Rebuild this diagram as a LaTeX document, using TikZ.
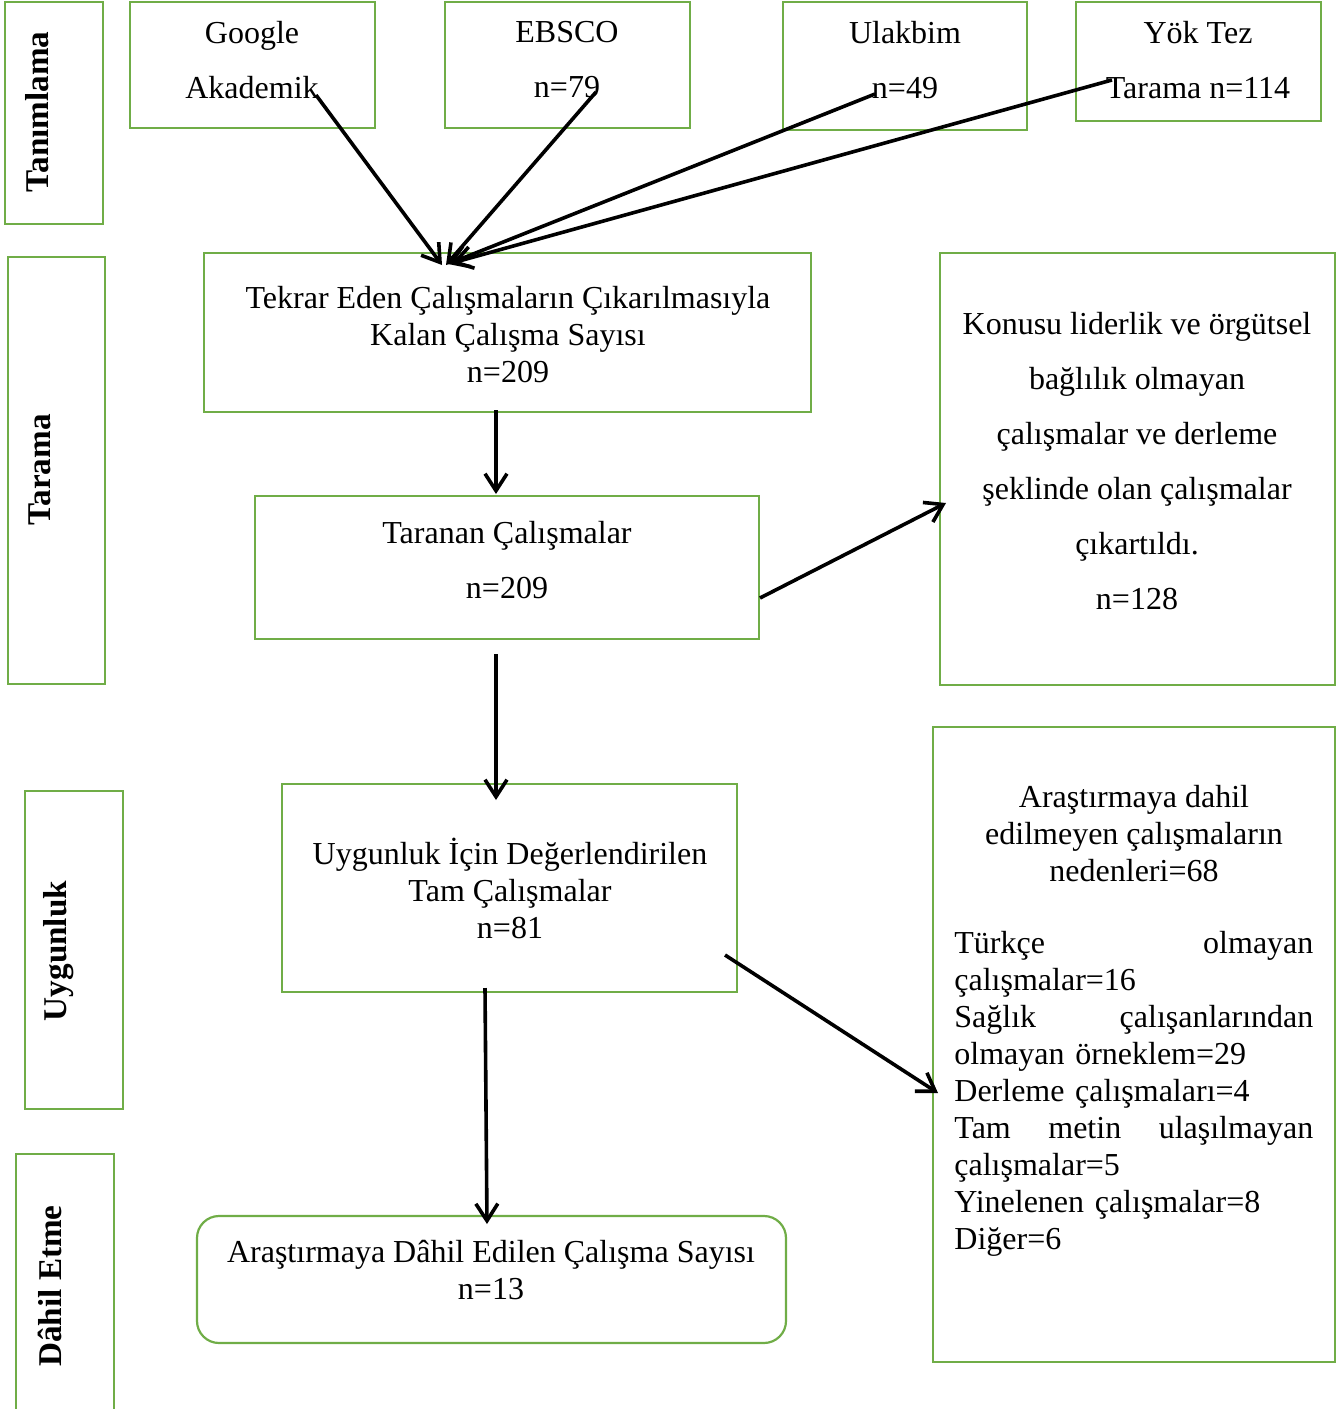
\documentclass[tikz,border=0pt]{standalone}
\usepackage{fontspec}
\setmainfont{Liberation Serif}
\usetikzlibrary{arrows.meta,fit}
\definecolor{boxgreen}{HTML}{70AD47}
\begin{document}
\begin{tikzpicture}[x=0.5pt,y=-0.5pt,
  box/.style={draw=boxgreen, line width=1.1pt, inner sep=0pt},
  txt/.style={font=\fontsize{16}{18.5}\selectfont, align=center, inner sep=0pt},
  wide/.style={font=\fontsize{16}{27.5}\selectfont, align=center, inner sep=0pt},
  lab/.style={font=\fontsize{16.6}{18.5}\selectfont\bfseries, rotate=90, inner sep=0pt},
  arr/.style={-{Straight Barb[length=8.5pt,width=11pt]}, line width=1.8pt, black}]
\useasboundingbox (0,0) rectangle (1344,1409);

% stage label boxes
\node[box, fit={(5,2)(103,224)}] (lTan) {};
\node[box, fit={(8,257)(105,684)}] (lTar) {};
\node[box, fit={(25,791)(123,1109)}] (lUyg) {};
\node[box, fit={(16,1154)(114,1430)}] (lDah) {};
\node[lab] (lTanT) at (37,112) {Tanımlama};
\node[lab] (lTarT) at (40,470) {Tarama};
\node[lab] (lUygT) at (59,951) {Uygunluk};
\node[lab] (lDahT) at (50,1286) {Dâhil Etme};

% source boxes
\node[box, fit={(130,2)(375,128)}] (google) {};
\node[box, fit={(445,2)(690,128)}] (ebsco) {};
\node[box, fit={(783,2)(1027,130)}] (ulak) {};
\node[box, fit={(1076,2)(1321,121)}] (yok) {};
\node[wide] (googleT) at (252,60) {Google\\Akademik};
\node[wide] (ebscoT) at (567,60) {EBSCO\\n=79};
\node[wide] (ulakT) at (905,60) {Ulakbim\\n=49};
\node[wide] (yokT) at (1198,60) {Yök Tez\\Tarama n=114};

% main flow
\node[box, fit={(204,253)(811,412)}] (tekrar) {};
\node[txt] (tekrarT) at (508,335) {Tekrar Eden Çalışmaların Çıkarılmasıyla\\Kalan Çalışma Sayısı\\n=209};
\node[box, fit={(255,496)(759,639)}] (taranan) {};
\node[wide] (tarananT) at (507,560) {Taranan Çalışmalar\\n=209};
\node[box, fit={(940,253)(1335,685)}] (konu) {};
\node[wide] (konuT) at (1137,461) {Konusu liderlik ve örgütsel\\bağlılık olmayan\\çalışmalar ve derleme\\şeklinde olan çalışmalar\\çıkartıldı.\\n=128};
\node[box, fit={(282,784)(737,992)}] (uygun) {};
\node[txt] (uygunT) at (510,888) {Uygunluk İçin Değerlendirilen\\Tam Çalışmalar\\n=81};
\node[box, fit={(933,727)(1335,1362)}] (neden) {};
\node[txt, anchor=north] (nedenH) at (1134,785) {Araştırmaya dahil\\edilmeyen çalışmaların\\nedenleri=68};
\node[txt, anchor=north west, align=left, text width=179.5pt] (nedenL) at (954,931) {Türkçe\hfill olmayan\\çalışmalar=16\\Sağlık\hfill çalışanlarından\\olmayan örneklem=29\\Derleme çalışmaları=4\\Tam\hfill metin\hfill ulaşılmayan\\çalışmalar=5\\Yinelenen çalışmalar=8\\Diğer=6};
\node[box, rounded corners=11pt, fit={(197,1216)(786,1343)}] (dahil) {};
\node[txt] (dahilT) at (491,1270) {Araştırmaya Dâhil Edilen Çalışma Sayısı\\n=13};

% connector end points
\coordinate (gS) at (316,95);  \coordinate (gE) at (442,265);
\coordinate (eS) at (596,92);  \coordinate (eE) at (446,265);
\coordinate (uS) at (875,94);  \coordinate (uE) at (448,264);
\coordinate (yS) at (1112,80); \coordinate (yE) at (452,263);
\coordinate (t1S) at (496,410); \coordinate (t1E) at (496,494);
\coordinate (t2S) at (496,654); \coordinate (t2E) at (496,800);
\coordinate (t3S) at (760,598); \coordinate (t3E) at (946,503);
\coordinate (u1S) at (725,955); \coordinate (u1E) at (938,1093);
\coordinate (u2S) at (485,988); \coordinate (u2E) at (487,1224);

\draw[arr] (gS) -- (gE);
\draw[arr] (eS) -- (eE);
\draw[arr] (uS) -- (uE);
\draw[arr] (yS) -- (yE);
\draw[arr] (t1S) -- (t1E);
\draw[arr] (t2S) -- (t2E);
\draw[arr] (t3S) -- (t3E);
\draw[arr] (u1S) -- (u1E);
\draw[arr] (u2S) -- (u2E);
\end{tikzpicture}
\end{document}
